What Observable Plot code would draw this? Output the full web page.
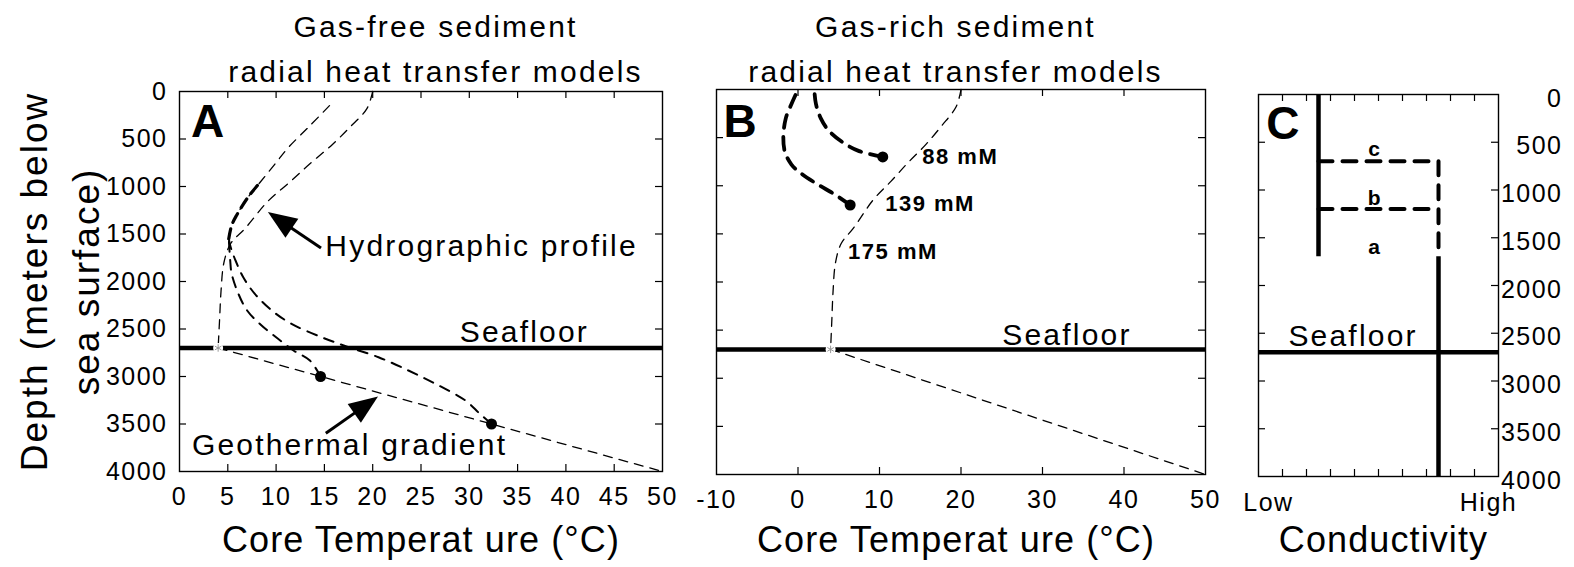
<!DOCTYPE html>
<html>
<head>
<meta charset="utf-8">
<script src="https://cdn.jsdelivr.net/npm/d3@7"></script>
<script src="https://cdn.jsdelivr.net/npm/@observablehq/plot@0.6"></script>
<style>
html, body { margin: 0; padding: 0; background: #fff; }
#wrap { position: relative; width: 1574px; height: 567px; overflow: hidden; background: #fff; }
#wrap > div { position: absolute; top: 0; }
g[aria-label="x-axis tick label"], g[aria-label="y-axis tick label"] { letter-spacing: 1.5px; font-size: 25px !important; }
g[aria-label="x-axis tick label"] text, g[aria-label="y-axis tick label"] text { font-size: 25px !important; }
g[aria-label="text"][font-size="30"] { letter-spacing: 2.2px; }
g[aria-label="text"][font-size="36"] { letter-spacing: 1.1px; }
g[aria-label="text"][font-size="37"] { letter-spacing: 2px; }
g[aria-label="text"][font-size="22"] { letter-spacing: 1.5px; }
</style>
</head>
<body>
<div id="wrap">
  <div id="pa" style="left:0px;width:690px"></div>
  <div id="pb" style="left:690px;width:540px"></div>
  <div id="pc" style="left:1230px;width:344px"></div>
</div>
<script>
// ---------- data ----------
const depthTicks = [0, 500, 1000, 1500, 2000, 2500, 3000, 3500, 4000];
const tempTicksA = [0, 5, 10, 15, 20, 25, 30, 35, 40, 45, 50];
const tempTicksB = [-10, 0, 10, 20, 30, 40, 50];
const condTicks = [1, 2, 3, 4, 5, 6, 7, 8, 9];
const condLabels = ["Low", "High"];
const seafloorDepth = 2700;

// hydrographic (water column) temperature profile
const hydroTemp  = [20.0, 19.4, 17.6, 15.7, 13.5, 11.4, 9.2, 6.8, 5.3, 4.6, 4.3, 4.15, 4.0];
const hydroDepth = [0, 180, 380, 570, 760, 955, 1150, 1440, 1600, 1800, 2100, 2400, 2700];

// geothermal gradient below seafloor
const geoTemp  = [4, 50];
const geoDepth = [2700, 4000];

// Panel A: gas-free core models (from in-situ depth upward)
const coreA1Temp  = [14.6, 13.5, 11.8, 10.2, 8.5, 7.0, 6.1, 5.4, 5.25, 5.1];
const coreA1Depth = [3000, 2832, 2726, 2603, 2463, 2305, 2130, 1919, 1779, 1550];
const coreA2Temp  = [32.3, 31.1, 29.6, 26.5, 23.7, 20.6, 17.5, 14.7, 11.6, 9.55, 7.8, 6.6, 5.8, 5.3, 5.1];
const coreA2Depth = [3500, 3393, 3253, 3077, 2937, 2797, 2691, 2586, 2446, 2305, 2130, 1955, 1779, 1640, 1550];
const ascentTemp  = [5.1, 5.4, 5.9, 7.1, 8.35, 9.9, 11.3, 13.35, 15.8];
const ascentDepth = [1550, 1410, 1305, 1112, 955, 761, 586, 376, 120];
const coreDotTemp  = [14.6, 32.3];
const coreDotDepth = [3000, 3500];

// Panel B: gas-rich core models
const gas88Temp   = [10.4, 7.5, 5.5, 3.8, 2.8, 2.2, 2.0];
const gas88Depth  = [700, 640, 550, 430, 300, 150, 0];
const gas139Temp  = [6.4, 4.5, 2.5, 0.5, -0.8, -1.6, -1.8, -1.5, -0.8, 0.0];
const gas139Depth = [1200, 1090, 990, 880, 780, 650, 500, 300, 150, 0];
const gasDotTemp  = [10.4, 6.4];
const gasDotDepth = [700, 1200];
const gasLabels     = ["88 mM", "139 mM", "175 mM"];
const gasLabelTemp  = [15.25, 10.7, 6.15];
const gasLabelDepth = [706, 1184, 1693];

// Panel C: conductivity structure
const condLow = 2.5, condHigh = 7.5;
const boundaryDepths = [700, 1200];
const transitionDepth = 1700;
const layerNames = ["c", "b", "a"];
const layerLabelCond = 4.82;
const layerLabelDepth = [576, 1084, 1597];

// annotations
const arrowTailTemp = [14.7, 15.2];
const arrowTailDepth = [1653, 3603];
const arrowTipTemp = [9.2, 20.6];
const arrowTipDepth = [1274, 3217];

// ---------- helpers ----------
const zip = (xs, ys) => xs.map((x, i) => ({x, y: ys[i]}));
const FONT = "Liberation Sans, Arial, Helvetica, sans-serif";
const TL = 7;

function frameTicks(xTicks, yTicks, fw, fh) {
  return [
    Plot.tickX(xTicks, {x: d => d, insetTop: fh - TL, strokeWidth: 1.2}),
    Plot.tickX(xTicks, {x: d => d, insetBottom: fh - TL, strokeWidth: 1.2}),
    Plot.tickY(yTicks, {y: d => d, insetRight: fw - TL, strokeWidth: 1.2}),
    Plot.tickY(yTicks, {y: d => d, insetLeft: fw - TL, strokeWidth: 1.2})
  ];
}

function filledArrows(tails, tips, headLength = 29, headWidth = 23, shaft = 3) {
  return (index, scales) => {
    const g = d3.create("svg:g").attr("aria-label", "arrow");
    tails.forEach((tl, i) => {
      const tp = tips[i];
      const x1 = scales.x(tl.x), y1 = scales.y(tl.y), x2 = scales.x(tp.x), y2 = scales.y(tp.y);
      const dx = x2 - x1, dy = y2 - y1, L = Math.hypot(dx, dy);
      const ux = dx / L, uy = dy / L;
      const bx = x2 - ux * headLength, by = y2 - uy * headLength;
      g.append("line").attr("x1", x1).attr("y1", y1).attr("x2", bx + ux * 2).attr("y2", by + uy * 2)
        .attr("stroke", "black").attr("stroke-width", shaft);
      g.append("path")
        .attr("d", `M${x2},${y2}L${bx - uy * headWidth / 2},${by + ux * headWidth / 2}L${bx + uy * headWidth / 2},${by - ux * headWidth / 2}Z`)
        .attr("fill", "black");
    });
    return g.node();
  };
}

const hydro = zip(hydroTemp, hydroDepth);
const geo = zip(geoTemp, geoDepth);
const marker = zip([geoTemp[0]], [seafloorDepth]);
const thinDash = {x: "x", y: "y", stroke: "black", strokeWidth: 1.3, strokeDasharray: "9,7", curve: "catmull-rom"};

// ---------- Panel A ----------
{
  const width = 690, height = 567, mt = 91, mr = 28, mb = 96, ml = 179;
  const fw = width - ml - mr, fh = height - mt - mb;
  const ascent = zip(ascentTemp, ascentDepth);
  const chart = Plot.plot({
    width, height, marginTop: mt, marginRight: mr, marginBottom: mb, marginLeft: ml,
    style: {fontFamily: FONT, background: "white", color: "black"},
    x: {domain: [0, 50]},
    y: {domain: [0, 4000], reverse: true},
    marks: [
      Plot.frame({strokeWidth: 1.4}),
      ...frameTicks(tempTicksA.slice(1, -1), depthTicks.slice(1, -1), fw, fh),
      Plot.axisX({ticks: tempTicksA, tickSize: 0, tickPadding: 16, fontSize: 25, tickFormat: d => String(d), label: null}),
      Plot.axisY({ticks: depthTicks, tickSize: 0, tickPadding: 12, fontSize: 25, tickFormat: d => String(d), label: null}),
      Plot.ruleY([seafloorDepth], {strokeWidth: 4.5}),
      Plot.line(hydro, thinDash),
      Plot.line(geo, {...thinDash, curve: "linear"}),
      Plot.line(ascent, thinDash),
      Plot.line(ascent.filter(d => d.y >= 900), {...thinDash, strokeWidth: 3.2, strokeDasharray: "10,7"}),
      Plot.line(zip(coreA1Temp, coreA1Depth), {...thinDash, strokeWidth: 2, strokeDasharray: "10,8"}),
      Plot.line(zip(coreA2Temp, coreA2Depth), {...thinDash, strokeWidth: 2, strokeDasharray: "10,8"}),
      Plot.dot(marker, {x: "x", y: "y", r: 5, fill: "white"}),
      Plot.dot(marker, {x: "x", y: "y", r: 3.5, symbol: "asterisk", stroke: "#999", strokeWidth: 1}),
      Plot.dot(zip(coreDotTemp, coreDotDepth), {x: "x", y: "y", r: 5.5, fill: "black"}),
      filledArrows(zip(arrowTailTemp, arrowTailDepth), zip(arrowTipTemp, arrowTipDepth)),
      Plot.text(["Hydrographic profile"], {text: d => d, x: 15.1, y: 1632, textAnchor: "start", fontSize: 30}),
      Plot.text(["Geothermal gradient"], {text: d => d, x: 17.6, y: 3726, fontSize: 30}),
      Plot.text(["Seafloor"], {text: d => d, x: 35.7, y: 2534, fontSize: 30}),
      Plot.text(["A"], {text: d => d, x: 2.9, y: 321, fontSize: 46, fontWeight: "bold"}),
      Plot.text(["Gas-free sediment\nradial heat transfer models"], {text: d => d, frameAnchor: "top", lineAnchor: "middle", dx: 14.5, dy: -46.5, fontSize: 30, lineHeight: 1.5}),
      Plot.text(["Core Temperat ure (°C)"], {text: d => d, frameAnchor: "bottom", lineAnchor: "middle", dy: 69, fontSize: 36}),
      Plot.text(["Depth (meters below\nsea surface)"], {text: d => d, frameAnchor: "left", textAnchor: "middle", lineAnchor: "middle", dx: -123, rotate: -90, fontSize: 37, lineHeight: 1.4})
    ]
  });
  document.getElementById("pa").append(chart);
}

// ---------- Panel B ----------
{
  const width = 540, height = 567, mt = 89, mr = 25, mb = 93, ml = 26;
  const fw = width - ml - mr, fh = height - mt - mb;
  const gasLab = gasLabels.map((t, i) => ({t, x: gasLabelTemp[i], y: gasLabelDepth[i]}));
  const chart = Plot.plot({
    width, height, marginTop: mt, marginRight: mr, marginBottom: mb, marginLeft: ml,
    style: {fontFamily: FONT, background: "white", color: "black"},
    x: {domain: [-10, 50]},
    y: {domain: [0, 4000], reverse: true, axis: null},
    marks: [
      Plot.frame({strokeWidth: 1.4}),
      ...frameTicks(tempTicksB.slice(1, -1), depthTicks.slice(1, -1), fw, fh),
      Plot.axisX({ticks: tempTicksB, tickSize: 0, tickPadding: 16, fontSize: 25, tickFormat: d => String(d), label: null}),
      Plot.ruleY([seafloorDepth], {strokeWidth: 4.5}),
      Plot.line(hydro, thinDash),
      Plot.line(geo, {...thinDash, curve: "linear"}),
      Plot.line(zip(gas88Temp, gas88Depth), {...thinDash, strokeWidth: 3.8, strokeDasharray: "13,9"}),
      Plot.line(zip(gas139Temp, gas139Depth), {...thinDash, strokeWidth: 3.8, strokeDasharray: "13,9"}),
      Plot.dot(zip(gasDotTemp, gasDotDepth), {x: "x", y: "y", r: 5.5, fill: "black"}),
      Plot.dot(marker, {x: "x", y: "y", r: 5, fill: "white"}),
      Plot.dot(marker, {x: "x", y: "y", r: 3.5, symbol: "asterisk", stroke: "#999", strokeWidth: 1}),
      Plot.text(gasLab, {x: "x", y: "y", text: "t", textAnchor: "start", fontSize: 22, fontWeight: "bold"}),
      Plot.text(["Seafloor"], {text: d => d, x: 33, y: 2556, fontSize: 30}),
      Plot.text(["B"], {text: d => d, x: -7.1, y: 338, fontSize: 46, fontWeight: "bold"}),
      Plot.text(["Gas-rich sediment\nradial heat transfer models"], {text: d => d, frameAnchor: "top", lineAnchor: "middle", dx: -5.5, dy: -44.5, fontSize: 30, lineHeight: 1.5}),
      Plot.text(["Core Temperat ure (°C)"], {text: d => d, frameAnchor: "bottom", lineAnchor: "middle", dx: -5, dy: 66, fontSize: 36})
    ]
  });
  document.getElementById("pb").append(chart);
}

// ---------- Panel C ----------
{
  const width = 344, height = 567, mt = 94, mr = 76, mb = 91, ml = 28;
  const fw = width - ml - mr, fh = height - mt - mb;
  const upperBoundary = [
    {x: condLow, y: boundaryDepths[0]}, {x: condHigh, y: boundaryDepths[0]}, {x: condHigh, y: transitionDepth}
  ];
  const lowerBoundary = [
    {x: condLow, y: boundaryDepths[1]}, {x: condHigh, y: boundaryDepths[1]}
  ];
  const layers = layerNames.map((t, i) => ({t, x: layerLabelCond, y: layerLabelDepth[i]}));
  const cDash = {x: "x", y: "y", stroke: "black", strokeWidth: 4, strokeDasharray: "14,10"};
  const chart = Plot.plot({
    width, height, marginTop: mt, marginRight: mr, marginBottom: mb, marginLeft: ml,
    style: {fontFamily: FONT, background: "white", color: "black"},
    x: {domain: [0, 10]},
    y: {domain: [0, 4000], reverse: true},
    marks: [
      Plot.frame({strokeWidth: 1.4}),
      ...frameTicks(condTicks, depthTicks.slice(1, -1), fw, fh),
      Plot.axisX({ticks: [0], tickSize: 0, tickPadding: 17, fontSize: 25, dx: 10, tickFormat: () => condLabels[0], label: null}),
      Plot.axisX({ticks: [10], tickSize: 0, tickPadding: 17, fontSize: 25, dx: -10, tickFormat: () => condLabels[1], label: null}),
      Plot.axisY({anchor: "right", ticks: depthTicks, tickSize: 0, tickPadding: 64, textAnchor: "end", dy: 4, fontSize: 25, tickFormat: d => String(d), label: null}),
      Plot.ruleY([seafloorDepth], {strokeWidth: 4.5}),
      Plot.ruleX([condLow], {y1: 0, y2: transitionDepth, strokeWidth: 4.5}),
      Plot.ruleX([condHigh], {y1: transitionDepth, y2: 4000, strokeWidth: 4.5}),
      Plot.line(upperBoundary, cDash),
      Plot.line(lowerBoundary, cDash),
      Plot.text(layers, {x: "x", y: "y", text: "t", fontSize: 21, fontWeight: "bold"}),
      Plot.text(["Seafloor"], {text: d => d, x: 3.94, y: 2529, fontSize: 30}),
      Plot.text(["C"], {text: d => d, x: 1.02, y: 314, fontSize: 46, fontWeight: "bold"}),
      Plot.text(["Conductivity"], {text: d => d, frameAnchor: "bottom", lineAnchor: "middle", dx: 5, dy: 64, fontSize: 36})
    ]
  });
  document.getElementById("pc").append(chart);
}
</script>
</body>
</html>
